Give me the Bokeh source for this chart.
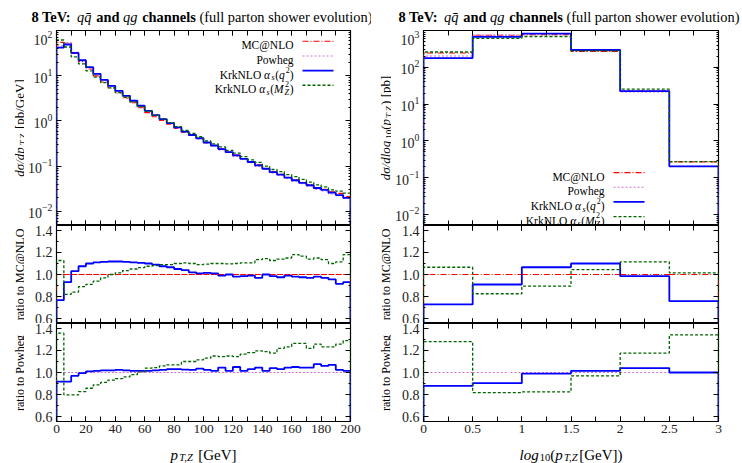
import math
from bokeh.plotting import figure
from bokeh.layouts import row, column
from bokeh.models import (Label, LinearAxis, LogAxis, SingleIntervalTicker,
                          FixedTicker, LogTicker, Range1d, PrintfTickFormatter)
from bokeh.embed import file_html
from bokeh.resources import INLINE

# ---------------- data ----------------
pt_edges = [0, 5, 10, 15, 20, 25, 30, 35, 40, 45, 50, 55, 60, 65, 70, 75, 80, 85, 90, 95,
            100, 105, 110, 115, 120, 125, 130, 135, 140, 145, 150, 155, 160, 165, 170, 175,
            180, 185, 190, 195, 200]
# KrkNLO alpha_s(q^2), d sigma / d pT  [pb/GeV]
krk_q2_pt = [42, 49, 32, 22, 15.5, 11, 8.1, 6.0, 4.65, 3.6, 2.8, 2.17, 1.68, 1.35, 1.1, 0.9,
             0.72, 0.58, 0.49, 0.415, 0.335, 0.287, 0.24, 0.205, 0.173, 0.146, 0.124, 0.104,
             0.088, 0.074, 0.065, 0.056, 0.049, 0.043, 0.038, 0.033, 0.030, 0.026, 0.023, 0.020]
# ratios to MC@NLO
r_q2_mc_pt = [0.767, 0.93, 1.03, 1.075, 1.10, 1.11, 1.115, 1.118, 1.118, 1.115, 1.11, 1.105,
              1.10, 1.09, 1.075, 1.066, 1.05, 1.04, 1.02, 1.01, 1.015, 1.01, 0.99, 1.0, 0.98,
              0.985, 0.99, 0.97, 1.0, 0.985, 0.975, 0.99, 0.98, 0.975, 0.97, 0.98, 0.97, 0.955,
              0.915, 0.93]
r_mz_mc_pt = [1.127, 0.82, 0.84, 0.89, 0.91, 0.94, 0.97, 1.0, 1.015, 1.036, 1.05, 1.063,
              1.075, 1.08, 1.09, 1.09, 1.10, 1.105, 1.10, 1.09, 1.094, 1.10, 1.10, 1.097, 1.10,
              1.105, 1.105, 1.135, 1.145, 1.127, 1.14, 1.15, 1.18, 1.166, 1.14, 1.15, 1.135,
              1.10, 1.115, 1.18]
# ratios to Powheg
r_q2_pw_pt = [0.918, 0.918, 0.97, 0.994, 1.01, 1.015, 1.02, 1.02, 1.024, 1.02, 1.015, 1.015,
              1.015, 1.02, 1.024, 1.03, 1.03, 1.027, 1.024, 1.036, 1.024, 1.015, 1.045, 1.015,
              1.05, 1.015, 1.03, 1.045, 1.015, 1.04, 1.03, 1.045, 1.05, 1.045, 1.045, 1.076,
              1.06, 1.07, 1.024, 1.015]
r_mz_pw_pt = [1.357, 0.797, 0.797, 0.827, 0.857, 0.888, 0.91, 0.93, 0.945, 0.96, 0.98, 1.006,
              1.04, 1.045, 1.06, 1.07, 1.07, 1.10, 1.10, 1.115, 1.13, 1.15, 1.145, 1.15, 1.145,
              1.167, 1.18, 1.197, 1.19, 1.176, 1.22, 1.233, 1.264, 1.264, 1.22, 1.258, 1.233,
              1.233, 1.258, 1.29]

log_edges = [0, 0.5, 1, 1.5, 2, 2.5, 3]
krk_q2_log = [178, 674, 820, 295, 22.4, 0.204]
r_q2_mc_log = [0.728, 0.909, 1.066, 1.10, 0.985, 0.758]
r_mz_mc_log = [1.066, 0.825, 0.894, 1.045, 1.115, 1.015]
r_q2_pw_log = [0.879, 0.903, 0.99, 1.015, 1.04, 1.0]
r_mz_pw_log = [1.28, 0.818, 0.824, 0.97, 1.176, 1.342]

x_ticks_log = [0, 0.5, 1, 1.5, 2, 2.5, 3]
x_tick_labels_log = ["0", "0.5", "1", "1.5", "2", "2.5", "3"]
ratio_ticks = [0.6, 0.8, 1.0, 1.2, 1.4]
ratio_minor_ticks = [0.7, 0.9, 1.1, 1.3]

# derived spectra (ratios)
mc_pt = [k / r for k, r in zip(krk_q2_pt, r_q2_mc_pt)]
pw_pt = [k / r for k, r in zip(krk_q2_pt, r_q2_pw_pt)]
mz_pt = [m * r for m, r in zip(mc_pt, r_mz_mc_pt)]
mc_log = [k / r for k, r in zip(krk_q2_log, r_q2_mc_log)]
pw_log = [k / r for k, r in zip(krk_q2_log, r_q2_pw_log)]
mz_log = [m * r for m, r in zip(mc_log, r_mz_mc_log)]
ones_pt = [m / m for m in mc_pt]
ones_log = [m / m for m in mc_log]

# ---------------- styles ----------------
FONT = "Liberation Serif"
ST = {
    "MC@NLO": dict(line_color="#ff0000", line_width=1.1, line_dash="6 2 1 2"),
    "Powheg": dict(line_color="#d070d0", line_width=1.1, line_dash="2 2"),
    "KrkNLO q2": dict(line_color="#0000ff", line_width=1.8),
    "KrkNLO MZ2": dict(line_color="#006400", line_width=1.3, line_dash="3 2"),
}

ROMAN = {' ': 250, '(': 333, ')': 333, '[': 333, ']': 333, '/': 278, ':': 278, ',': 250,
         '.': 250, '@': 921, '-': 333, 'A': 722, 'B': 667, 'C': 667, 'D': 722, 'E': 611,
         'F': 556, 'G': 722, 'H': 722, 'I': 333, 'J': 389, 'K': 722, 'L': 611, 'M': 889,
         'N': 722, 'O': 722, 'P': 556, 'Q': 722, 'R': 667, 'S': 556, 'T': 611, 'U': 722,
         'V': 722, 'W': 944, 'X': 722, 'Y': 722, 'Z': 611, 'a': 444, 'b': 500, 'c': 444,
         'd': 500, 'e': 444, 'f': 333, 'g': 500, 'h': 500, 'i': 278, 'j': 278, 'k': 500,
         'l': 278, 'm': 778, 'n': 500, 'o': 500, 'p': 500, 'q': 500, 'r': 333, 's': 389,
         't': 278, 'u': 500, 'v': 500, 'w': 722, 'x': 500, 'y': 500, 'z': 444, 'σ': 560,
         'α': 560, '\u0304': 0}
for d in "0123456789":
    ROMAN[d] = 500
ITAL = {'a': 500, 'k': 444, 'r': 389, 'v': 444, 'w': 667, 'y': 444, 'z': 389, 'T': 556,
        'Z': 556, 'M': 833, 'f': 278}
BOLD = {'d': 556, 'h': 556, 'n': 556, 'a': 500, 'T': 667, ':': 333, 'V': 722}


def char_w(ch, style):
    w = ROMAN.get(ch, 500)
    if style == "italic":
        w = ITAL.get(ch, w)
    elif style == "bold":
        w = BOLD.get(ch, w)
    return w


def text_w(t, size, style):
    tot = sum(char_w(ch, style) for ch in t)
    extra = 0.08 * size if style == "italic" else 0
    return tot * size / 1000.0 + extra


def to_data(spec, gx, gy):
    x = spec["x0"] + (gx - spec["left"]) / spec["w"] * (spec["x1"] - spec["x0"])
    f = (spec["top"] + spec["h"] - gy) / spec["h"]
    if spec["ylog"]:
        a, b = math.log10(spec["y0"]), math.log10(spec["y1"])
        y = 10 ** (a + f * (b - a))
    else:
        y = spec["y0"] + f * (spec["y1"] - spec["y0"])
    return x, y


def place(p, spec, pieces, gx, gy, align="left", vertical=False):
    """pieces: (text, style, size, shift) ; shift>0 means lowered (subscript)."""
    widths = [text_w(t, s, st) for t, st, s, _ in pieces]
    total = sum(widths)
    cur = {"right": -total, "center": -total / 2}.get(align, 0)
    for (t, st, s, sh), w in zip(pieces, widths):
        lead = len(t) - len(t.lstrip(" "))
        off = lead * 250 * s / 1000.0
        txt = t.strip(" ")
        if vertical:
            px, py, ang = gx + sh, gy - cur - off, math.pi / 2
        else:
            px, py, ang = gx + cur + off, gy + sh, 0
        x, y = to_data(spec, px, py)
        p.add_layout(Label(x=x, y=y, text=txt, text_font=FONT, text_font_size=f"{s}px",
                           text_font_style=st, text_color="black", angle=ang,
                           text_align="left", text_baseline="alphabetic"))
        cur += w


def style_axis(ax, labels=True):
    ax.major_tick_in = 5
    ax.major_tick_out = 0
    ax.minor_tick_in = 2
    ax.minor_tick_out = 0
    ax.axis_line_color = None
    ax.major_tick_line_color = "black"
    ax.minor_tick_line_color = "black"
    ax.major_label_text_font = FONT
    ax.major_label_text_font_size = "14px"
    ax.major_label_text_color = "#222222"
    ax.major_label_standoff = 4
    if not labels:
        ax.major_label_text_font_size = "0.5px"
        ax.major_label_text_alpha = 0
        ax.major_label_standoff = 0


def make_fig(spec, width, height, bl, br, bb, xlabels, kind):
    p = figure(width=width, height=height, min_border_left=bl, title=None,
               min_border_right=br, min_border_top=0, min_border_bottom=bb,
               x_range=Range1d(spec["x0"], spec["x1"]), y_range=Range1d(spec["y0"], spec["y1"]),
               y_axis_type="log" if spec["ylog"] else "linear",
               output_backend="svg", toolbar_location=None)
    p.xgrid.visible = False
    p.ygrid.visible = False
    p.outline_line_color = "black"
    p.outline_line_width = 1.2
    p.background_fill_color = "white"
    p.border_fill_color = "white"

    if kind == "pt":
        xt = lambda: SingleIntervalTicker(interval=20, num_minor_ticks=2)
    else:
        xt = lambda: SingleIntervalTicker(interval=0.5, num_minor_ticks=2)
    if spec["ylog"]:
        yt = lambda: LogTicker(num_minor_ticks=10)
    else:
        yt = lambda: FixedTicker(ticks=ratio_ticks, minor_ticks=ratio_minor_ticks)

    p.xaxis.ticker = xt()
    p.yaxis.ticker = yt()
    for ax in p.xaxis:
        style_axis(ax, xlabels)
        ax.minor_tick_in = 5
        if xlabels:
            ax.major_label_text_font_size = "13.5px"
            ax.major_label_standoff = 3
        if kind == "log":
            ax.major_label_overrides = {v: s for v, s in zip(x_ticks_log, x_tick_labels_log)}
    for ax in p.yaxis:
        style_axis(ax, True)
        if not spec["ylog"]:
            ax.formatter = PrintfTickFormatter(format="%.1f")
    top = LinearAxis(ticker=xt())
    style_axis(top, False)
    top.minor_tick_in = 5
    p.add_layout(top, "above")
    right = LogAxis(ticker=yt()) if spec["ylog"] else LinearAxis(ticker=yt())
    style_axis(right, False)
    p.add_layout(right, "right")
    return p


def strip(spec):
    p = figure(width=spec["w"], height=spec["h"], min_border=0, title=None,
               x_range=Range1d(spec["x0"], spec["x1"]), y_range=Range1d(spec["y0"], spec["y1"]),
               x_axis_location=None, y_axis_location=None,
               output_backend="svg", toolbar_location=None)
    p.xgrid.visible = False
    p.ygrid.visible = False
    p.outline_line_color = None
    p.background_fill_color = "white"
    p.border_fill_color = "white"
    return p


def hist_xy(edges, vals, floor):
    xs, ys = [edges[0]], [floor]
    for i, v in enumerate(vals):
        xs += [edges[i], edges[i + 1]]
        ys += [v, v]
    xs.append(edges[-1])
    ys.append(floor)
    return xs, ys


def draw(p, edges, vals, name, floor):
    xs, ys = hist_xy(edges, vals, floor)
    p.line(xs, ys, **ST[name])


# ---------------- geometry (global pixels) ----------------
LX, RX = 56, 423
W_L, W_R = 294, 295
YSTRIP_L, YSTRIP_R = 24, 20
TITLE_H = 30
BB = 18                       # bottom border of the lowest panel (tick labels)
FIG_H = [195, 98, 97 + 1 + BB]  # figure heights of the three stacked panels
XSTRIP_H = 463 - TITLE_H - sum(FIG_H)
HID = 1                       # size of the hidden mirror axes
COL_H = sum(FIG_H)

tops = [TITLE_H, TITLE_H + FIG_H[0], TITLE_H + FIG_H[0] + FIG_H[1]]
fr_top = [tops[0] + HID, tops[1] + HID, tops[2] + HID]
fr_h = [FIG_H[0] - 2 * HID, FIG_H[1] - 2 * HID, FIG_H[2] - HID - BB]

spec_lt = dict(left=LX, top=fr_top[0], w=W_L, h=fr_h[0], x0=0, x1=200, y0=10 ** -2.31, y1=100, ylog=True)
spec_lm = dict(left=LX, top=fr_top[1], w=W_L, h=fr_h[1], x0=0, x1=200, y0=0.555, y1=1.445, ylog=False)
spec_lb = dict(left=LX, top=fr_top[2], w=W_L, h=fr_h[2], x0=0, x1=200, y0=0.555, y1=1.445, ylog=False)
spec_rt = dict(left=RX, top=fr_top[0], w=W_R, h=fr_h[0], x0=0, x1=3, y0=10 ** -2.3, y1=1000, ylog=True)
spec_rm = dict(left=RX, top=fr_top[1], w=W_R, h=fr_h[1], x0=0, x1=3, y0=0.555, y1=1.445, ylog=False)
spec_rb = dict(left=RX, top=fr_top[2], w=W_R, h=fr_h[2], x0=0, x1=3, y0=0.555, y1=1.445, ylog=False)

LBL = LX - YSTRIP_L
LBR = 371 - LX - W_L
RBL = RX - 371 - YSTRIP_R
RBR = 742 - RX - W_R
LW = 371 - YSTRIP_L
RW = 371 - YSTRIP_R

p_lt = make_fig(spec_lt, LW, FIG_H[0], LBL, LBR, 0, False, "pt")
p_lm = make_fig(spec_lm, LW, FIG_H[1], LBL, LBR, 0, False, "pt")
p_lb = make_fig(spec_lb, LW, FIG_H[2], LBL, LBR, BB, True, "pt")
p_rt = make_fig(spec_rt, RW, FIG_H[0], RBL, RBR, 0, False, "log")
p_rm = make_fig(spec_rm, RW, FIG_H[1], RBL, RBR, 0, False, "log")
p_rb = make_fig(spec_rb, RW, FIG_H[2], RBL, RBR, BB, True, "log")

# text strips (frames covering the whole strip, coordinates in pixels)
sp_title_l = dict(left=0, top=0, w=371, h=TITLE_H, x0=0, x1=371, y0=0, y1=TITLE_H, ylog=False)
sp_title_r = dict(left=371, top=0, w=371, h=TITLE_H, x0=0, x1=371, y0=0, y1=TITLE_H, ylog=False)
sp_y_l = dict(left=0, top=TITLE_H, w=YSTRIP_L, h=COL_H, x0=0, x1=YSTRIP_L, y0=0, y1=COL_H, ylog=False)
sp_y_r = dict(left=371, top=TITLE_H, w=YSTRIP_R, h=COL_H, x0=0, x1=YSTRIP_R, y0=0, y1=COL_H, ylog=False)
sp_x_l = dict(left=0, top=TITLE_H + COL_H, w=371, h=XSTRIP_H, x0=0, x1=371, y0=0, y1=XSTRIP_H, ylog=False)
sp_x_r = dict(left=371, top=TITLE_H + COL_H, w=371, h=XSTRIP_H, x0=0, x1=371, y0=0, y1=XSTRIP_H, ylog=False)
s_title_l, s_title_r = strip(sp_title_l), strip(sp_title_r)
s_y_l, s_y_r = strip(sp_y_l), strip(sp_y_r)
s_x_l, s_x_r = strip(sp_x_l), strip(sp_x_r)

# ---------------- curves ----------------
for p, spec, edges, mc, pw, q2, mz in [(p_lt, spec_lt, pt_edges, mc_pt, pw_pt, krk_q2_pt, mz_pt),
                                       (p_rt, spec_rt, log_edges, mc_log, pw_log, krk_q2_log, mz_log)]:
    fl = spec["y0"]
    draw(p, edges, mc, "MC@NLO", fl)
    draw(p, edges, pw, "Powheg", fl)
    draw(p, edges, q2, "KrkNLO q2", fl)
    draw(p, edges, mz, "KrkNLO MZ2", fl)

for p, spec, edges, one, q2, mz, ref in [
        (p_lm, spec_lm, pt_edges, ones_pt, r_q2_mc_pt, r_mz_mc_pt, "MC@NLO"),
        (p_lb, spec_lb, pt_edges, ones_pt, r_q2_pw_pt, r_mz_pw_pt, "Powheg"),
        (p_rm, spec_rm, log_edges, ones_log, r_q2_mc_log, r_mz_mc_log, "MC@NLO"),
        (p_rb, spec_rb, log_edges, ones_log, r_q2_pw_log, r_mz_pw_log, "Powheg")]:
    fl = spec["y0"]
    draw(p, edges, one, ref, fl)
    draw(p, edges, q2, "KrkNLO q2", fl)
    draw(p, edges, mz, "KrkNLO MZ2", fl)

# ---------------- titles ----------------
TS = 14.4
title_pieces = [("8 TeV: ", "bold", TS, 0), ("qq\u0304", "italic", TS, 0), (" and ", "bold", TS, 0),
                ("qg", "italic", TS, 0), (" channels ", "bold", TS, 0),
                ("(full parton shower evolution)", "normal", TS, 0)]
place(s_title_l, sp_title_l, title_pieces, LX - 25, 16.5)
place(s_title_r, sp_title_r, title_pieces, RX - 25, 16.5)

# ---------------- legends ----------------
LS, SS = 11.5, 8


def legend(p, spec, xr, x_l0, x_l1, ys):
    entries = [
        ("MC@NLO", [("MC@NLO", "normal", LS, 0)]),
        ("Powheg", [("Powheg", "normal", LS, 0)]),
        ("KrkNLO q2", [("KrkNLO ", "normal", LS, 0), ("α", "italic", LS, 0), ("s", "italic", SS, 3),
                       ("(", "normal", LS, 0), ("q", "italic", LS, 0), ("2", "normal", SS, -5),
                       (")", "normal", LS, 0)]),
        ("KrkNLO MZ2", [("KrkNLO ", "normal", LS, 0), ("α", "italic", LS, 0), ("s", "italic", SS, 3),
                        ("(", "normal", LS, 0), ("M", "italic", LS, 0), ("Z", "italic", SS, 3.5),
                        (")", "normal", LS, 0)]),
    ]
    for (name, pcs), gy in zip(entries, ys):
        place(p, spec, pcs, xr, gy + 4, align="right")
        if name == "KrkNLO MZ2":
            wz = text_w(")", LS, "normal") + text_w("Z", SS, "italic")
            x, y = to_data(spec, xr - wz + 0.5, gy + 4 - 5.5)
            p.add_layout(Label(x=x, y=y, text="2", text_font=FONT, text_font_size=f"{SS}px",
                               text_color="black", text_baseline="alphabetic"))
        xa, ya = to_data(spec, x_l0, gy)
        xb, _ = to_data(spec, x_l1, gy)
        p.line([xa, xb], [ya, ya], **ST[name])


legend(p_lt, spec_lt, 293, 302, 333, [41.7, 56.2, 70.7, 85.2])
legend(p_rt, spec_rt, 604, 613, 644, [171.7, 186.2, 200.7, 215.2])

# ---------------- axis labels ----------------
YS, YSS = 13, 9
place(s_y_l, sp_y_l, [("dσ/dp", "italic", YS, 0), ("T,Z", "italic", YSS, 3),
                      (" [pb/GeV]", "normal", YS, 0)], 19, spec_lt["top"] + spec_lt["h"] / 2,
      align="center", vertical=True)
place(s_y_r, sp_y_r, [("dσ/dlog", "italic", YS, 0), ("10", "normal", YSS, 3), ("(", "normal", YS, 0),
                      ("p", "italic", YS, 0), ("T,Z", "italic", YSS, 3), (") [pb]", "normal", YS, 0)],
      371 + 14, spec_rt["top"] + spec_rt["h"] / 2, align="center", vertical=True)
for s, sp, txt, gx, spec in [(s_y_l, sp_y_l, "ratio to MC@NLO", 19, spec_lm),
                             (s_y_l, sp_y_l, "ratio to Powheg", 19, spec_lb),
                             (s_y_r, sp_y_r, "ratio to MC@NLO", 371 + 14, spec_rm),
                             (s_y_r, sp_y_r, "ratio to Powheg", 371 + 14, spec_rb)]:
    place(s, sp, [(txt, "normal", 12, 0)], gx, spec["top"] + spec["h"] / 2, align="center", vertical=True)

XS, XSS = 15, 10.5
place(s_x_l, sp_x_l, [("p", "italic", XS, 0), ("T,Z", "italic", XSS, 3), (" [GeV]", "normal", XS, 0)],
      LX + W_L / 2, 454, align="center")
place(s_x_r, sp_x_r, [("log", "italic", XS, 0), ("10", "normal", XSS, 3), ("(", "normal", XS, 0),
                      ("p", "italic", XS, 0), ("T,Z", "italic", XSS, 3), ("[GeV])", "normal", XS, 0)],
      RX + W_R / 2, 454, align="center")

left_col = column(s_title_l, row(s_y_l, column(p_lt, p_lm, p_lb)), s_x_l)
right_col = column(s_title_r, row(s_y_r, column(p_rt, p_rm, p_rb)), s_x_r)
layout = row(left_col, right_col)
open("out.html", "w").write(file_html(layout, INLINE))
